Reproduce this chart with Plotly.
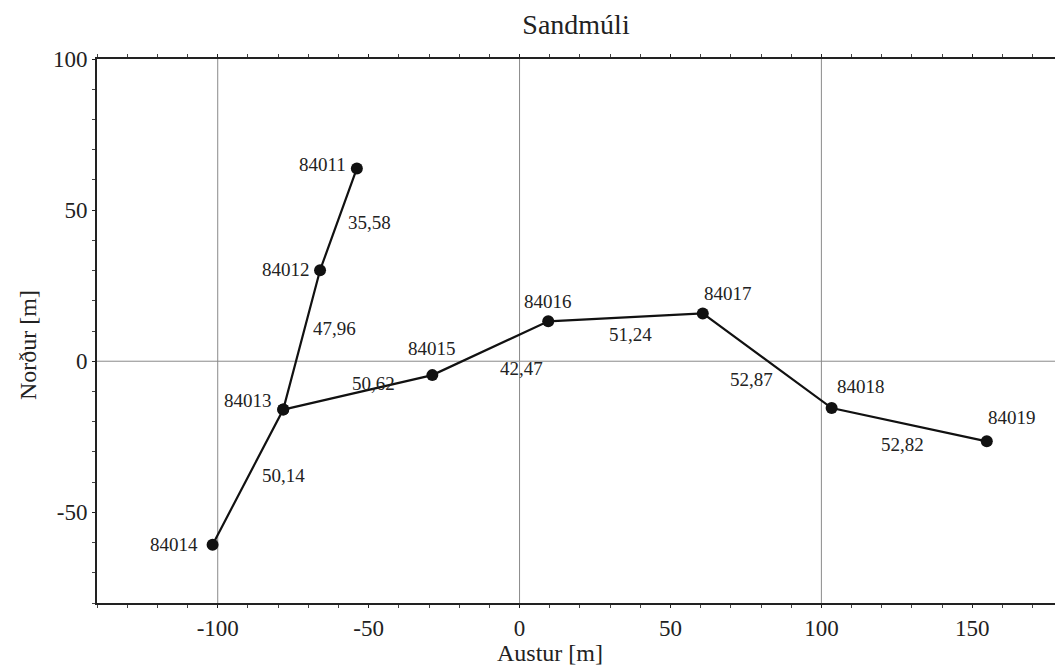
import plotly.graph_objects as go

# ---- data ----
stations = ["84011", "84012", "84013", "84014", "84015", "84016", "84017", "84018", "84019"]
east = [-53.9, -66.1, -78.3, -101.7, -28.9, 9.5, 60.7, 103.4, 154.8]
north = [63.8, 30.1, -16.0, -60.7, -4.6, 13.2, 15.8, -15.5, -26.5]

# traverse legs (from, to) and their lengths
leg_from = ["84011", "84012", "84013", "84013", "84015", "84016", "84017", "84018"]
leg_to = ["84012", "84013", "84014", "84015", "84016", "84017", "84018", "84019"]
leg_len = ["35,58", "47,96", "50,14", "50,62", "42,47", "51,24", "52,87", "52,82"]

branch1 = ["84011", "84012", "84013", "84014"]
branch2 = ["84013", "84015", "84016", "84017", "84018", "84019"]

x_ticks = [-100, -50, 0, 50, 100, 150]
y_ticks = [-50, 0, 50, 100]
grid_x = [-100, 0, 100]
grid_y = [0]

# ---- styles / label offsets (pixels) ----
station_shift = {
    "84011": (-34, 4), "84012": (-34, 1), "84013": (-35, 9), "84014": (-39, 0),
    "84015": (0, 27), "84016": (0, 20), "84017": (25, 20), "84018": (29, 22),
    "84019": (25, 24),
}
leg_shift = [(31, -3), (33, 11), (36, 2), (16, 9), (31, -20), (5, -17), (-16, -19), (-7, -20)]

FONT = "Liberation Serif"
TXT = "#222"
pos = {s: (x, y) for s, x, y in zip(stations, east, north)}

FW, FH = 1055, 672
L, R, T, B = 97, 0, 59, 69
W, H = FW - L - R, FH - T - B

fig = go.Figure()
for br in (branch1, branch2):
    fig.add_trace(go.Scatter(
        x=[pos[s][0] for s in br], y=[pos[s][1] for s in br],
        mode="lines+markers",
        line=dict(color="#111", width=2.2),
        marker=dict(color="#111", size=12),
        hoverinfo="skip", showlegend=False,
    ))

for s in stations:
    dx, dy = station_shift[s]
    fig.add_annotation(x=pos[s][0], y=pos[s][1], text=s, showarrow=False,
                       xshift=dx, yshift=dy, font=dict(family=FONT, size=19, color=TXT))

for a, b, t, (dx, dy) in zip(leg_from, leg_to, leg_len, leg_shift):
    mx = (pos[a][0] + pos[b][0]) / 2
    my = (pos[a][1] + pos[b][1]) / 2
    fig.add_annotation(x=mx, y=my, text=t, showarrow=False,
                       xshift=dx, yshift=dy, font=dict(family=FONT, size=19, color=TXT))

for gx in grid_x:
    fig.add_shape(type="line", x0=gx, x1=gx, y0=0, y1=1, xref="x", yref="paper",
                  line=dict(color="#8a8a8a", width=1), layer="below")
for gy in grid_y:
    fig.add_shape(type="line", y0=gy, y1=gy, x0=0, x1=1, yref="y", xref="paper",
                  line=dict(color="#8a8a8a", width=1), layer="below")

fig.update_xaxes(
    range=[-140, 177.4], tickvals=x_ticks, ticktext=[str(v) for v in x_ticks],
    showgrid=False, zeroline=False, showline=True, linecolor="#222", linewidth=2,
    mirror="ticks", ticks="outside", ticklen=3, tickcolor="#222", automargin=False,
    minor=dict(dtick=10, tick0=0, ticks="outside", ticklen=3, tickcolor="#444"),
    tickfont=dict(family=FONT, size=23, color=TXT),
)
fig.update_yaxes(
    range=[-80, 100], tickvals=y_ticks, ticktext=[str(v) for v in y_ticks],
    showgrid=False, zeroline=False, showline=True, linecolor="#222", linewidth=2,
    mirror=False, ticks="outside", ticklen=3, tickcolor="#222", automargin=False,
    minor=dict(dtick=10, tick0=0, ticks="outside", ticklen=3, tickcolor="#444"),
    tickfont=dict(family=FONT, size=23, color=TXT),
)

fig.add_annotation(text="Austur [m]", x=(550 - L) / W, y=-(653 - (FH - B)) / H,
                   xref="paper", yref="paper", xanchor="center", yanchor="middle",
                   showarrow=False, font=dict(family=FONT, size=24, color=TXT))
fig.add_annotation(text="Norður [m]", x=-(L - 28) / W, y=((FH - B) - 345) / H,
                   xref="paper", yref="paper", xanchor="center", yanchor="middle",
                   showarrow=False, textangle=-90, font=dict(family=FONT, size=24, color=TXT))

fig.update_layout(
    width=FW, height=FH,
    margin=dict(l=L, r=R, t=T, b=B),
    paper_bgcolor="white", plot_bgcolor="white",
    title=dict(text="Sandmúli", x=576 / FW, xref="container", xanchor="center",
               y=1 - 24 / FH, yref="container", yanchor="middle", automargin=False,
               font=dict(family=FONT, size=28, color=TXT)),
)

fig.write_html(
    "out.html",
    config={"displayModeBar": False},
    post_script="document.body.style.margin='0px';document.body.style.overflow='hidden';",
)
